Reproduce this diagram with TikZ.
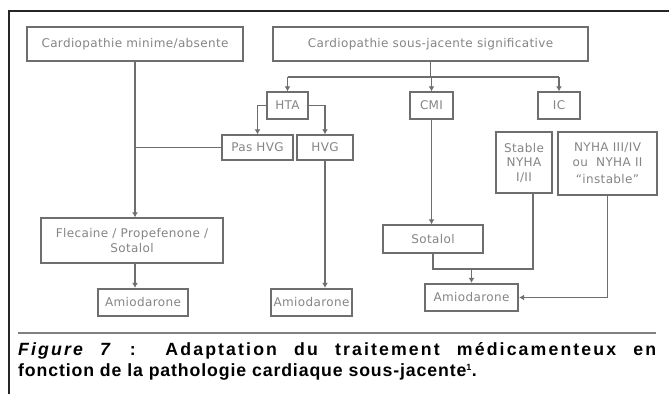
\documentclass[tikz,border=0pt]{standalone}
\usepackage{fontspec}
\setmainfont{Liberation Sans}[LetterSpace=5]
\newfontfamily\capwide{Liberation Sans}[LetterSpace=12]
\newfontfamily\boxfont{DejaVu Sans}[LetterSpace=3]
\usetikzlibrary{arrows.meta,calc}
\definecolor{lgray}{HTML}{6E6E6E}
\definecolor{tgray}{HTML}{858585}
\begin{document}
\begin{tikzpicture}[x=1pt,y=-1pt,
  bx/.style={draw=lgray,line width=1.5pt,fill=white,inner sep=1pt,align=center,
    font=\boxfont\fontsize{12}{14.5}\selectfont,text=tgray},
  bxt/.style={bx,line width=2.4pt},
  conn/.style={draw=lgray,line width=1.4pt},
  arr/.style={conn,-{Latex[length=5pt,width=6pt]}}]
\useasboundingbox (0,0) rectangle (669,394);
\fill[white] (0,0) rectangle (669,394);
% frame
\draw[line width=2.2pt,black!85] (669,11) -- (9,11) -- (9,394);
\draw[line width=1.3pt,gray] (18,333) -- (656,333);
% nodes
\node[bx,minimum width=216pt,minimum height=34pt] (cma) at (135,44) {Cardiopathie minime/absente};
\node[bx,minimum width=315pt,minimum height=34pt] (css) at (430.5,44) {Cardiopathie sous-jacente significative};
\node[bx,minimum width=41pt,minimum height=27pt] (hta) at (287.5,105.5) {HTA};
\node[bx,minimum width=43pt,minimum height=27pt] (cmi) at (431.5,105.5) {CMI};
\node[bx,minimum width=42pt,minimum height=27pt] (ic) at (559,105.5) {IC};
\node[bx,minimum width=71pt,minimum height=25pt] (pashvg) at (257.5,147.5) {Pas HVG};
\node[bx,minimum width=56pt,minimum height=25pt] (hvg) at (325,147.5) {HVG};
\node[bx,minimum width=182pt,minimum height=45pt] (flec) at (132,240.5) {Flecaine / Propefenone /\\Sotalol};
\node[bxt,minimum width=90pt,minimum height=27pt] (amio1) at (143,302.5) {Amiodarone};
\node[bxt,minimum width=81pt,minimum height=27pt] (amio2) at (311.5,302.5) {Amiodarone};
\node[bx,minimum width=100pt,minimum height=28pt] (sot) at (433,239) {Sotalol};
\node[bxt,minimum width=56pt,minimum height=61pt] (stab) at (524,162.5) {Stable\\NYHA\\I/II};
\node[bxt,minimum width=99pt,minimum height=63pt] (nyha) at (607.5,163.5) {NYHA III/IV\\ou\ \ NYHA II\\\rule{0pt}{16pt}“instable”};
\node[bxt,minimum width=93pt,minimum height=27pt] (amio3) at (471.5,297.5) {Amiodarone};
% helper coordinates
\coordinate (bar) at (0,77);
\coordinate (j2) at (0,269);
\coordinate (s1) at ([xshift=9pt]stab.south);
% connectors
\draw[conn] (css.south) -- (css.south |- bar);
\draw[conn] (hta.north |- bar) -- (ic.north |- bar);
\draw[arr] (hta.north |- bar) -- (hta.north);
\draw[arr] (cmi.north |- bar) -- (cmi.north);
\draw[arr] (ic.north |- bar) -- (ic.north);
\draw[arr] (hta.west) -| (pashvg.north);
\draw[arr] (hta.east) -| (hvg.north);
\draw[arr] (cma.south) -- (cma.south |- flec.north);
\draw[conn] (pashvg.west) -- (cma.south |- pashvg.west);
\draw[arr] (cma.south |- flec.south) -- (cma.south |- amio1.north);
\draw[arr] (hvg.south) -- (hvg.south |- amio2.north);
\draw[arr] (cmi.south) -- (cmi.south |- sot.north);
\draw[conn] (sot.south) -- (sot.south |- j2) -- (s1 |- j2) -- (s1);
\draw[arr] (amio3.north |- j2) -- (amio3.north);
\draw[arr] (nyha.south) |- (amio3.east);
% caption
\node[anchor=north west,inner sep=0pt,text width=638pt,align=justify,
  font=\bfseries\fontsize{17.7}{21.5}\selectfont] (cap) at (18,342)
  {{\capwide\bfseries\textit{Figure 7} : Adaptation du traitement médicamenteux en}\linebreak fonction de la pathologie cardiaque sous-jacente\textsuperscript{\fontsize{9}{9}\selectfont 1}.};
\end{tikzpicture}
\end{document}
